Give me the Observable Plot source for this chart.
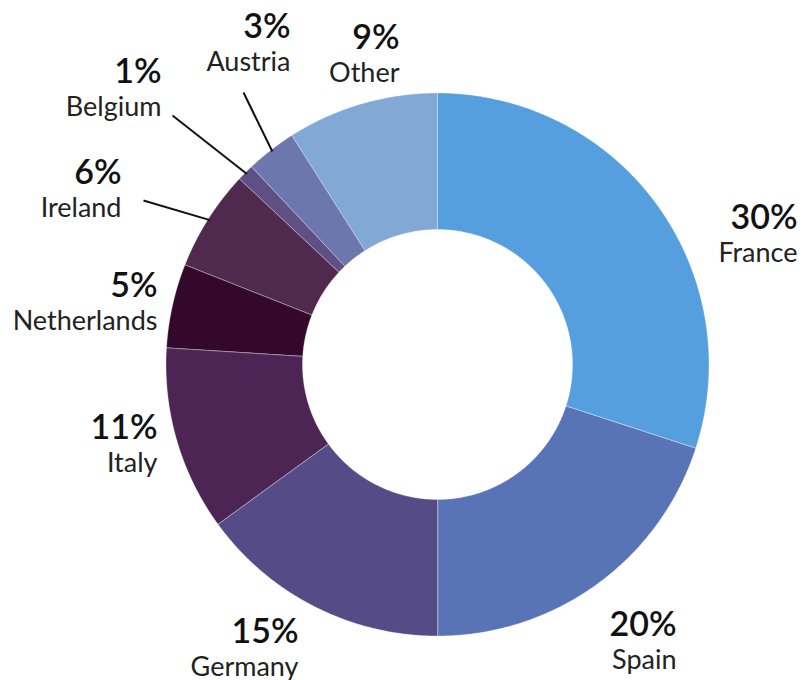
<!DOCTYPE html>
<html>
<head>
<meta charset="utf-8">
<script src="https://cdn.jsdelivr.net/npm/d3@7"></script>
<script src="https://cdn.jsdelivr.net/npm/@observablehq/plot@0.6"></script>
<style>
  html, body { margin: 0; padding: 0; background: #fff; }
  #chart svg { display: block; }
</style>
</head>
<body>
<div id="chart"></div>
<script>
// ---- data ----
const countries = ["France", "Spain", "Germany", "Italy", "Netherlands", "Ireland", "Belgium", "Austria", "Other"];
const shares = [30, 20, 15, 11, 5, 6, 1, 3, 9];
const colors = ["#569fde", "#5874b6", "#544b87", "#4c2555", "#33082a", "#50294f", "#5e4f85", "#6b77ad", "#82a8d6"];

// ---- layout (pixels relative to donut centre, y up) ----
const outerR = 271.5, innerR = 135;
const labelEnd = [[360, 136], [239, -271], [-139, -278], [-280, -74], [-280, 68], [-316, 181], [-276, 282], [-147, 327], [-38, 316]];
const nameGap = 33;
const leaderStart = {Belgium: [-265, 249], Austria: [-194, 272], Ireland: [-294, 164]};

// ---- build geometry from data ----
const total = d3.sum(shares);
let acc = 0;
const slices = countries.map((name, i) => {
  const a0 = acc / total * 2 * Math.PI;
  acc += shares[i];
  const a1 = acc / total * 2 * Math.PI;
  return {name, value: shares[i], a0, a1, mid: (a0 + a1) / 2};
});
const polar = (r, a) => [r * Math.sin(a), r * Math.cos(a)];
const pts = [];
for (const s of slices) {
  const n = Math.max(2, Math.ceil((s.a1 - s.a0) / (Math.PI / 360)));
  for (let k = 0; k <= n; k++) {
    const a = s.a0 + (s.a1 - s.a0) * k / n;
    const [x, y] = polar(outerR, a);
    pts.push({name: s.name, x, y});
  }
  for (let k = n; k >= 0; k--) {
    const a = s.a0 + (s.a1 - s.a0) * k / n;
    const [x, y] = polar(innerR, a);
    pts.push({name: s.name, x, y});
  }
}
const labels = slices.map((s, i) => ({name: s.name, pct: s.value + "%", x: labelEnd[i][0], y: labelEnd[i][1]}));
const leaders = slices.filter(s => leaderStart[s.name]).map(s => {
  const [x2, y2] = polar(outerR - 2, s.mid);
  return {x1: leaderStart[s.name][0], y1: leaderStart[s.name][1], x2, y2};
});

const W = 803, H = 680, cx = 437, cy = 364;
const chart = Plot.plot({
  width: W, height: H,
  margin: 0,
  x: {domain: [-cx, W - cx], axis: null},
  y: {domain: [cy - H, cy], axis: null},
  color: {domain: countries, range: colors},
  style: {fontFamily: "Lato, sans-serif", background: "white"},
  marks: [
    Plot.line(pts, {x: "x", y: "y", z: "name", fill: "name", stroke: "white", strokeWidth: 0.7, strokeOpacity: 0.45, curve: "linear-closed"}),
    Plot.link(leaders, {x1: "x1", y1: "y1", x2: "x2", y2: "y2", stroke: "#111", strokeWidth: 2}),
    Plot.text(labels, {x: "x", y: "y", text: "pct", textAnchor: "end", lineAnchor: "bottom", fontSize: 34, fontWeight: 600, fill: "#111"}),
    Plot.text(labels, {x: "x", y: "y", dy: nameGap, text: "name", textAnchor: "end", lineAnchor: "bottom", fontSize: 27, fill: "#222"})
  ]
});
document.getElementById("chart").appendChild(chart);
</script>
</body>
</html>
